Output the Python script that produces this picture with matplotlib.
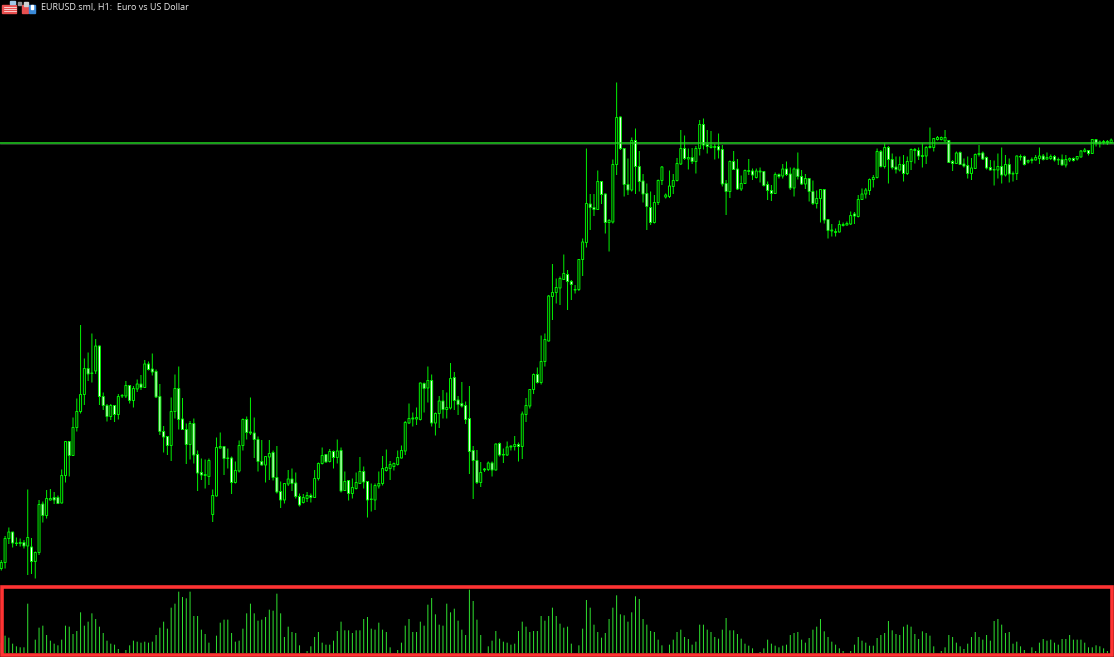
import matplotlib
matplotlib.use('Agg')
import matplotlib.pyplot as plt
from matplotlib.patches import Rectangle
import numpy as np

# Hourly candles, prices in chart points (one point is one screen pixel)
opens = [
    21.5,27.5,51.5,58,46.5,46.5,47.5,44,43,28.5,
    37.5,86,74.5,90,92.5,92.5,87,114.5,148.5,134.5,
    162.5,178.5,195.5,221.5,216.5,219,244,193.5,184.5,173.5,
    184.5,175.5,194,194,204.5,189.5,201,206,202.5,226,
    221,218.5,193.5,158.5,153.5,144.5,178.5,201.5,171,160.5,
    145.5,166.5,135.5,117.5,114.5,113.5,75.5,94,142,143.5,
    131.5,132,107.5,119,144.5,170.5,157,157,150.5,128.5,
    125,133,137.5,112.5,98.5,90,106,111,107,93.5,
    87.5,91.5,94.5,92.5,111.5,126.5,135.5,128.5,138.5,132.5,
    139.5,99.5,109.5,96.5,101.5,106.5,118.5,108.5,90.5,90,
    104,106.5,119.5,121.5,123.5,125.5,132,139,167,171,
    171,170.5,206.5,202,209.5,167,176.5,189,180.5,182,
    212.5,190,186.5,184.5,171.5,139.5,129.5,107.5,120,120.5,
    127,120,146.5,135,135,143,143.5,145.5,143.5,175.5,
    184,200.5,215.5,207.5,228.5,249,293.5,297.5,302,310.5,
    315.5,308.5,300,300.5,330.5,347.5,386,382.5,380.5,408.5,
    396,367.5,368,425.5,473,441.5,405.5,400,449.5,423.5,
    409,396.5,382.5,367.5,387.5,409.5,393,393.5,403.5,409.5,
    426,441.5,431,432.5,428.5,441.5,465.5,445.5,442.5,442.5,
    443.5,440.5,406.5,398.5,428.5,421,401,406.5,418.5,419,
    412.5,418,418.5,405.5,399.5,396.5,415.5,414,421,416,
    402,421,413.5,406,411.5,398.5,386.5,391.5,400.5,370.5,
    359,357.5,358,364.5,365,366,376,373.5,390.5,396,
    399.5,410.5,412.5,438.5,423.5,442.5,430.5,423,420,425.5,
    416.5,428.5,440.5,439.5,433.5,434,442.5,442.5,450.5,450.5,
    449,449.5,428.5,426.5,437.5,426,424.5,416.5,421.5,435.5,
    437,432.5,422.5,420,420,423.5,415,425.5,416,416.5,
    433,433.5,428,429.5,430,431.5,434,431,431.5,433.5,
    430,430.5,425,430,431.5,431,433,438.5,439.5,436.5,
    450.5,446.5,447.5,448.5,447.5]

closes = [
    27.5,51.5,58,47,47,47.5,44,52.5,28.5,37.5,
    85.5,74.5,91.5,91.5,90,86.5,114.5,148.5,134.5,162.5,
    178.5,195.5,221.5,216,217,244,193.5,184.5,173.5,184.5,
    175.5,193.5,194.5,204.5,189.5,201.5,206,202.5,226,220.5,
    218,193,158.5,153,144.5,178.5,201.5,170.5,160.5,145.5,
    166.5,135,117,115,115.5,129.5,94.5,142.5,143.5,131.5,
    132,107.5,119.5,144.5,170.5,157.5,158,150.5,128.5,125,
    133.5,136.5,112.5,98,90,106.5,111,106.5,93.5,85,
    92.5,94.5,92.5,111.5,126.5,134.5,128,138.5,132.5,139,
    99,108.5,96.5,102.5,107.5,118.5,108,90,91,104.5,
    106.5,121.5,122.5,125.5,126.5,132.5,139.5,167.5,171.5,172,
    172.5,207,201.5,209.5,167,176.5,189,180.5,182.5,211.5,
    189.5,185.5,184,170.5,138.5,129.5,107.5,117.5,121,127,
    120,146,135,135.5,143,144,145.5,143.5,176,184.5,
    200.5,215.5,207.5,228.5,250.5,294,297.5,302.5,311.5,316.5,
    308.5,305.5,300.5,330.5,348,386.5,382.5,380.5,408.5,395.5,
    367.5,369.5,425.5,472.5,441.5,405.5,400,449.5,423.5,408.5,
    396,383.5,367.5,387.5,409.5,423,395,404,409.5,426.5,
    441.5,431.5,432.5,428.5,441.5,465.5,445,443.5,444,443.5,
    440,406,398.5,428.5,420.5,401,406.5,419.5,419.5,415,
    419,419,404.5,399.5,396.5,415.5,413.5,421,415.5,402,
    421,413.5,406,411.5,398.5,386.5,391.5,400.5,370,359.5,
    360,358.5,365.5,365.5,366.5,374.5,374,390.5,396,400,
    410.5,412.5,438.5,423.5,442.5,430.5,422.5,420.5,425.5,416.5,
    428.5,440.5,439.5,434,434.5,442.5,443.5,451.5,452.5,452.5,
    452.5,427.5,426.5,437,425.5,424,416.5,422,435.5,436.5,
    431,422,420,420.5,423.5,415,425.5,416,416.5,434,
    433.5,425.5,429.5,430.5,432.5,434,430.5,432.5,433.5,430,
    430.5,425,430.5,431.5,429.5,433.5,439,440,436.5,450.5,
    446.5,448,448.5,447.5,450]

highs = [
    30,54,62.5,58,52.5,51.5,50,100.5,52,38.5,
    90,88.5,100,101,98,94.5,120.5,148.5,148.5,172.5,
    191.5,265,231.5,237.5,256.5,251,244.5,197.5,186,186,
    184.5,196,196,209,205,204,210.5,215,230,228.5,
    236.5,220.5,206,164,154,192.5,215.5,223.5,192,166.5,
    169,171.5,139.5,131.5,130.5,131.5,100.5,152.5,157.5,144,
    141.5,133.5,128.5,149.5,171.5,173.5,192.5,172.5,153.5,150,
    134,150,139.5,144,108.5,106.5,120,121.5,117.5,96.5,
    96,98,96.5,120,127.5,142.5,136,141,139.5,150.5,
    142.5,118.5,110,111.5,117.5,133,123.5,108.5,106.5,106.5,
    118.5,134,140.5,129,127.5,139.5,144.5,169,186.5,177.5,
    182.5,207.5,207.5,223.5,215.5,177.5,194,200,197.5,227,
    218,194,208,188.5,204,144,140,128,122,128.5,
    128.5,146.5,147.5,141.5,148.5,144.5,154,147.5,178.5,192,
    200.5,216.5,222.5,254.5,256.5,295,326,311.5,313.5,335.5,
    320,310,305,331,351.5,441.5,396,396,419.5,408.5,
    396.5,371,430.5,507.5,473.5,442,431.5,452.5,461.5,439,
    416,406.5,398.5,395,410.5,424,396.5,419.5,416,432,
    460,454.5,441.5,442,444,470,471.5,460,459,446,
    456.5,445,410,429.5,439,431,414.5,420.5,431,421.5,
    421.5,422.5,419,408.5,405,417.5,416.5,426,428.5,422.5,
    422.5,437.5,420,416,411.5,409.5,399.5,400.5,400.5,370.5,
    366,361.5,369.5,367.5,368.5,378.5,378,395,401.5,402,
    411.5,415,441.5,440,446.5,444,436.5,433.5,433.5,435,
    433.5,441.5,442,442.5,446.5,444,462.5,452,454,453.5,
    460,450,430,438.5,438.5,431.5,433.5,432,436.5,445,
    438.5,433.5,430,429.5,436.5,442.5,435,431.5,418.5,434.5,
    435.5,434.5,430.5,432.5,435,442.5,436,437.5,435.5,435,
    432.5,435.5,435,432.5,432.5,434,440,442,440,451,
    451,449.5,450,450,451.5]

lows = [
    19.5,21.5,46,42.5,44,43.5,41.5,15,16,11.5,
    35,67.5,71.5,89.5,86,86,86.5,107.5,113.5,134.5,
    158.5,176.5,185,209,207.5,216,185,180,168.5,170,
    168,170.5,192,192,186.5,182.5,198,200,202,219.5,
    214.5,192,155,137.5,135,129,171.5,160.5,160,126,
    130.5,126.5,99,110,101.5,105,68,93.5,141.5,115,
    121.5,96,106.5,117.5,139.5,150.5,155,132,118.5,124.5,
    107.5,110,109.5,96.5,82,86.5,104,99,91.5,83.5,
    86.5,88,87.5,92.5,109.5,125.5,127.5,127.5,121.5,126.5,
    97.5,99,89.5,91.5,100.5,106.5,101.5,72.5,78.5,80,
    101.5,104.5,118.5,110,119.5,124.5,131.5,135,166,163.5,
    165,169.5,177.5,187.5,163.5,154.5,162,171.5,171.5,180.5,
    180,175,182.5,166,116,91,106,103,118,119,
    113.5,119.5,133.5,127,134,139.5,139.5,128.5,131,168,
    181.5,196,206.5,205.5,223.5,248.5,270,286.5,285,310,
    280,290,296.5,299,314,342.5,360,374,380,386,
    356.5,338.5,366.5,415,440,393.5,395,398.5,396,398.5,
    387.5,360,365,366.5,385,405,391.5,392,396,408.5,
    425,430,420.5,426,416.5,434.5,440.5,436.5,441.5,430.5,
    431.5,403.5,375,392,420,400,399,406,415,410,
    411.5,407.5,403.5,390,389,396,411.5,411.5,414,400,
    393.5,410.5,405,401,388.5,385,381.5,367.5,366.5,351.5,
    353.5,353.5,357.5,363.5,364.5,365,366,372.5,390,391.5,
    395,402.5,411.5,422.5,421.5,406.5,420.5,416.5,418.5,408.5,
    415,420,426.5,430,422.5,426,441.5,438.5,449.5,449.5,
    448.5,427.5,419,426,425,422.5,411.5,410,421,433.5,
    430,420.5,419.5,404.5,411.5,406.5,413.5,407.5,408.5,410,
    429.5,424.5,426.5,426.5,429.5,426,429.5,430,430,428.5,
    425,424.5,422.5,428,428.5,429.5,432.5,437.5,434.5,436,
    443.5,442.5,445.5,445,446.5]

volumes = [
    30,52,46,28,20,17,17,148,0,40,
    76,82,54,37,28,23,40,82,79,57,
    66,122,82,94,119,102,79,60,37,28,
    25,12,0,9,23,37,34,31,34,31,
    34,54,76,94,73,136,148,184,168,164,
    184,111,111,70,57,31,0,52,91,100,
    100,60,34,37,73,119,148,119,97,100,
    108,130,127,178,119,48,79,63,60,23,
    0,6,20,48,63,31,25,25,37,66,
    94,68,68,60,68,68,102,108,73,70,
    91,70,63,17,0,9,31,82,102,63,
    63,94,82,145,165,116,85,82,148,122,
    133,97,70,54,190,156,100,54,0,20,
    37,66,43,34,31,25,28,66,94,79,
    63,66,66,111,97,111,136,111,88,76,
    79,28,0,23,73,159,136,85,63,46,
    60,102,136,173,116,113,94,122,170,162,
    102,85,66,63,40,23,0,25,40,63,
    70,48,42,25,34,85,85,70,63,48,
    43,70,105,68,68,57,43,28,22,14,
    0,3,14,40,28,22,17,22,25,54,
    60,63,40,31,45,70,79,102,65,48,
    34,25,14,6,0,6,25,48,37,31,
    22,22,45,54,60,96,68,57,54,79,
    85,79,57,42,65,60,52,20,0,6,
    17,54,48,31,20,12,28,48,63,48,
    40,54,37,96,102,85,60,63,28,34,
    20,9,0,17,6,31,42,37,40,31,
    25,42,42,54,40,40,40,31,17,17,
    23,20,14,6,12]

level = 447
title = "EURUSD.sml, H1:  Euro vs US Dollar"

W, H = 1114, 657
lime = '#00f000'
px = 72 / 100  # one pixel in points

fig = plt.figure(figsize=(W / 100, H / 100), dpi=100, facecolor='black')

opens = np.array(opens)
closes = np.array(closes)
highs = np.array(highs)
lows = np.array(lows)
volumes = np.array(volumes)
x = np.arange(len(opens))

# Keep candle spacing at 3.775 px, first candle at 1.3 px
xlim = (-1.3 / 3.775, (W - 1.3) / 3.775)

ax = fig.add_axes([0, 0, 1, 1], facecolor='black')
ax.set_xlim(xlim)
ax.set_ylim(-67, 590)
ax.axis('off')

up = closes >= opens
tops = np.maximum(opens, closes)
bots = np.minimum(opens, closes)

# snap off so thin lines spread over two pixels, as in the scaled screenshot
wicks = ax.vlines(x, lows, highs, color=lime, lw=px, zorder=2)
wicks.set_snap(False)
body_w = 2 / 3.775
ups = ax.bar(x[up], (tops - bots)[up], bottom=bots[up], width=body_w, color='black',
             edgecolor=lime, linewidth=px, zorder=3)
downs = ax.bar(x[~up], (tops - bots)[~up], bottom=bots[~up], width=body_w, color='white',
               edgecolor=lime, linewidth=px, zorder=3)
for b in list(ups) + list(downs):
    b.set_snap(False)

ax.axhline(level, color='#22d422', lw=1.5 * px, zorder=4)
ax.axhline(level - 1.2, color='#3a4a3a', lw=0.7 * px, zorder=1)

# Volume pane, one unit is a third of a pixel
vax = fig.add_axes([0, (H - 653) / H, 1, 64 / H], facecolor='black')
vax.set_xlim(xlim)
vax.set_ylim(0, 192)
vax.axis('off')
show = volumes > 0
vbars = vax.vlines(x[show], 0, volumes[show], color='#2fe02f', lw=1.0 * px)
vbars.set_snap(False)

# Overlay in pixel coordinates for the red box, title and icons
top = fig.add_axes([0, 0, 1, 1], facecolor='none')
top.set_xlim(0, W)
top.set_ylim(H, 0)
top.axis('off')
top.add_patch(Rectangle((1.7, 586.8), 1110, 68.2, fill=False, edgecolor='#ff3333', linewidth=3.6 * px))

top.text(41, 7.5, title, color='#e8e8e8', fontsize=6.5, family='Open Sans', ha='left', va='center')

# Toolbar icons
top.add_patch(Rectangle((2, 5), 14, 8, color='#e85050'))
for yy in (6.5, 8.5, 10.5):
    top.plot([4, 16], [yy, yy], color='white', lw=0.5)
top.add_patch(Rectangle((10, 1), 5, 3, color='#a0c8e8'))
top.add_patch(Rectangle((22, 5), 6, 8, color='#e85050'))
top.add_patch(Rectangle((24, 2), 4, 4, color='#d0d0d0'))
top.add_patch(Rectangle((29, 5), 6, 8, color='#3a8ad8'))
top.add_patch(Rectangle((31, 5), 2, 4, color='white'))
top.add_patch(Rectangle((18, 2), 3, 3, color='#909090'))

fig.savefig('out.png', dpi=100, facecolor='black')
